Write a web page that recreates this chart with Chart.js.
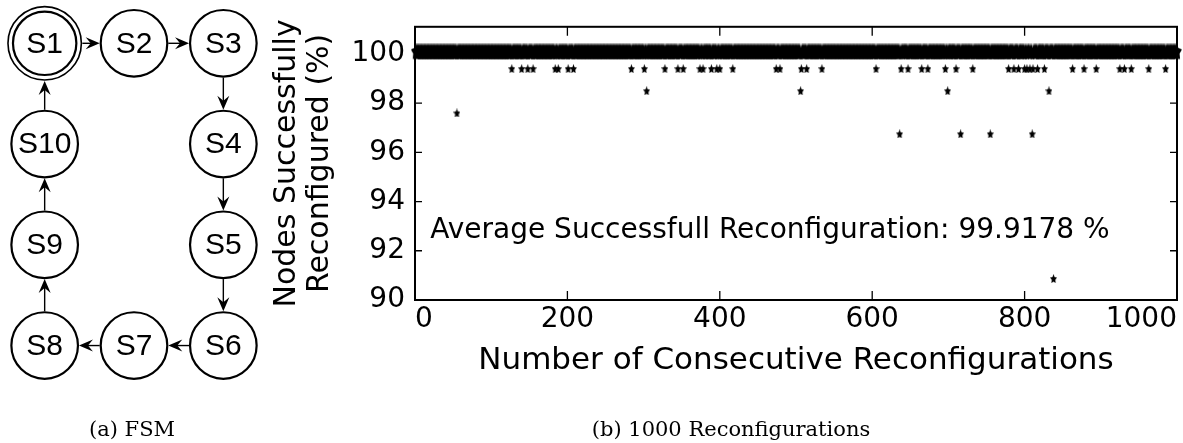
<!DOCTYPE html>
<html>
<head>
<meta charset="utf-8">
<script src="https://cdn.jsdelivr.net/npm/chart.js@4.4.1/dist/chart.umd.min.js"></script>
<style>
  html, body { margin: 0; padding: 0; background: #fff; }
  #wrap { position: relative; width: 1183px; height: 443px; overflow: hidden; }
  #recon { position: absolute; left: 0; top: 0; }
  #fsm { position: absolute; left: 0; top: 3px; }
  .cap { position: absolute; font-family: "DejaVu Serif", serif; font-size: 21px; line-height: 26px;
         color: #000; white-space: nowrap; transform: translateX(-50%); }
</style>
</head>
<body>
<div id="wrap">
  <canvas id="recon" width="1183" height="443"></canvas>
  <canvas id="fsm" width="268" height="403"></canvas>
  <div class="cap" style="left:132px; top:416px">(a) FSM</div>
  <div class="cap" style="left:731px; top:416px">(b) 1000 Reconfigurations</div>
</div>
<script>
// ---- (a) state machine ----
const stateNames = ['S1', 'S2', 'S3', 'S4', 'S5', 'S6', 'S7', 'S8', 'S9', 'S10'];
const stateCol = [0, 1, 2, 2, 2, 2, 1, 0, 0, 0];
const stateRow = [0, 0, 0, 1, 2, 3, 3, 3, 2, 1];
const acceptStates = ['S1'];
const transitions = [
  ['S1', 'S2'], ['S2', 'S3'], ['S3', 'S4'], ['S4', 'S5'], ['S5', 'S6'],
  ['S6', 'S7'], ['S7', 'S8'], ['S8', 'S9'], ['S9', 'S10'], ['S10', 'S1']
];

// ---- (b) reconfiguration runs ----
const totalRuns = 1000;
// runs where not every node reconfigured, and the % reached (all other runs are 100 %)
const partialRuns = [55, 127, 140, 148, 155, 184, 188, 201, 208, 284, 301, 304, 328, 345, 352,
  374, 378, 389, 396, 400, 417, 474, 479, 506, 507, 514, 534, 605, 636, 638, 647, 665, 673,
  696, 699, 710, 716, 732, 755, 779, 786, 792, 800, 803, 807, 810, 811, 817, 826, 832, 838,
  863, 878, 894, 925, 931, 940, 963, 985];
const partialPct = [97.6, 99.4, 99.4, 99.4, 99.4, 99.4, 99.4, 99.4, 99.4, 99.4, 99.4, 98.5, 99.4, 99.4, 99.4,
  99.4, 99.4, 99.4, 99.4, 99.4, 99.4, 99.4, 99.4, 98.5, 99.4, 99.4, 99.4, 99.4, 96.75, 99.4, 99.4, 99.4, 99.4,
  99.4, 98.5, 99.4, 96.75, 99.4, 96.75, 99.4, 99.4, 99.4, 99.4, 99.4, 99.4, 96.75, 99.4, 99.4, 99.4, 98.5, 90.87,
  99.4, 99.4, 99.4, 99.4, 99.4, 99.4, 99.4, 99.4];
const xTicks = [0, 200, 400, 600, 800, 1000];
const yTicks = [90, 92, 94, 96, 98, 100];
const avgLabel = 'Average Successfull Reconfiguration: 99.9178 %';

const fullPoints = [];
for (let r = 1; r <= totalRuns; r++) {
  if (!partialRuns.includes(r)) fullPoints.push({ x: r, y: 100 });
}
const partialPoints = partialRuns.map((r, i) => ({ x: r, y: partialPct[i] }));

// filled five point star as a point image
function starImage(w, h, boxH) {
  const c = document.createElement('canvas');
  c.width = w; c.height = boxH || h;
  const g = c.getContext('2d');
  const rx = w / 2 / 0.951, ry = h / 1.809;
  g.beginPath();
  for (let i = 0; i < 10; i++) {
    const k = i % 2 ? 0.5 : 1;
    const a = -Math.PI / 2 + i * Math.PI / 5;
    const px = w / 2 + Math.cos(a) * rx * k;
    const py = ry + Math.sin(a) * ry * k;
    if (i === 0) g.moveTo(px, py); else g.lineTo(px, py);
  }
  g.closePath();
  g.fillStyle = '#000';
  g.fill();
  return c;
}
const smallStar = starImage(7, 9);
const bandStar = starImage(10, 16, 21);

const sans = 'DejaVu Sans';

const framePlugin = {
  id: 'frame',
  beforeDatasetsDraw(chart) {
    const { ctx, chartArea: a, scales: { x, y } } = chart;
    ctx.save();
    ctx.strokeStyle = '#000';
    ctx.lineWidth = 2;
    ctx.strokeRect(a.left, a.top, a.right - a.left, a.bottom - a.top);
    ctx.lineWidth = 1.3;
    ctx.beginPath();
    x.ticks.forEach(t => {
      const px = x.getPixelForValue(t.value);
      ctx.moveTo(px, a.bottom); ctx.lineTo(px, a.bottom - 9);
      ctx.moveTo(px, a.top); ctx.lineTo(px, a.top + 9);
    });
    y.ticks.forEach(t => {
      const py = y.getPixelForValue(t.value);
      ctx.moveTo(a.left, py); ctx.lineTo(a.left + 7, py);
      ctx.moveTo(a.right, py); ctx.lineTo(a.right - 7, py);
    });
    ctx.stroke();
    ctx.restore();
  }
};

const notePlugin = {
  id: 'note',
  afterDatasetsDraw(chart) {
    const { ctx, scales: { x, y } } = chart;
    ctx.save();
    ctx.font = '28px "' + sans + '"';
    ctx.fillStyle = '#000';
    ctx.textAlign = 'left';
    ctx.textBaseline = 'middle';
    ctx.fillText(avgLabel, x.getPixelForValue(20), y.getPixelForValue(92.8));
    ctx.restore();
  }
};

new Chart(document.getElementById('recon'), {
  type: 'scatter',
  data: {
    datasets: [
      { label: 'all nodes', data: fullPoints, pointStyle: bandStar, clip: false },
      { label: 'some nodes', data: partialPoints, pointStyle: smallStar, clip: false }
    ]
  },
  options: {
    responsive: false,
    animation: false,
    layout: { padding: { left: 255, top: 24, right: 6, bottom: 63 }, autoPadding: false },
    plugins: { legend: { display: false }, tooltip: { enabled: false } },
    scales: {
      x: {
        type: 'linear', min: 0, max: 1000,
        afterBuildTicks: s => { s.ticks = xTicks.map(v => ({ value: v })); },
        afterFit: s => { s.height = 80; s.paddingLeft = 0; s.paddingRight = 0; },
        grid: { display: false, drawTicks: false },
        border: { display: false },
        ticks: { color: '#000', font: { family: sans, size: 28 }, padding: 3, maxRotation: 0,
                 autoSkip: false, align: 'inner', callback: v => String(v) },
        title: { display: true, text: 'Number of Consecutive Reconfigurations', color: '#000',
                 font: { family: sans, size: 31, lineHeight: 1.2 }, padding: 0 }
      },
      y: {
        type: 'linear', min: 90, max: 101.1,
        afterBuildTicks: s => { s.ticks = yTicks.map(v => ({ value: v })); },
        afterFit: s => { s.width = 160; },
        grid: { display: false, drawTicks: false },
        border: { display: false },
        ticks: { color: '#000', font: { family: sans, size: 28 }, padding: 10 },
        title: { display: true, text: ['Nodes Successfully', 'Reconfigured (%)'], color: '#000',
                 font: { family: sans, size: 30, lineHeight: 1.12 }, padding: { top: 15, bottom: 0 } }
      }
    }
  },
  plugins: [framePlugin, notePlugin]
});

// ---- FSM drawn on a hidden-axis scatter ----
const statePoints = stateNames.map((n, i) => ({ x: stateCol[i], y: stateRow[i], name: n }));
const acceptPoints = statePoints.filter(p => acceptStates.includes(p.name));
const nodeR = 33.3, innerR = 31.7, outerR = 36.7;

const edgePlugin = {
  id: 'edges',
  afterDatasetsDraw(chart) {
    const { ctx, scales: { x, y } } = chart;
    const pos = {};
    statePoints.forEach(p => { pos[p.name] = [x.getPixelForValue(p.x), y.getPixelForValue(p.y)]; });
    ctx.save();
    ctx.strokeStyle = '#000';
    ctx.fillStyle = '#000';
    transitions.forEach(([from, to]) => {
      const [x0, y0] = pos[from], [x1, y1] = pos[to];
      const dx = x1 - x0, dy = y1 - y0, len = Math.hypot(dx, dy);
      const ux = dx / len, uy = dy / len;
      const r0 = acceptStates.includes(from) ? outerR : nodeR;
      const r1 = acceptStates.includes(to) ? outerR : nodeR;
      const sx = x0 + ux * (r0 + 1), sy = y0 + uy * (r0 + 1);
      const tx = x1 - ux * (r1 + 1), ty = y1 - uy * (r1 + 1);
      ctx.lineWidth = 1.4;
      ctx.beginPath();
      ctx.moveTo(sx, sy);
      ctx.lineTo(tx - ux * 6, ty - uy * 6);
      ctx.stroke();
      // barbed arrow head
      const hl = 14, hw = 6, notch = 9;
      const bx = tx - ux * hl, by = ty - uy * hl;
      ctx.beginPath();
      ctx.moveTo(tx, ty);
      ctx.lineTo(bx - uy * hw, by + ux * hw);
      ctx.lineTo(tx - ux * notch, ty - uy * notch);
      ctx.lineTo(bx + uy * hw, by - ux * hw);
      ctx.closePath();
      ctx.fill();
    });
    ctx.font = '30px "Liberation Sans"';
    ctx.textAlign = 'center';
    ctx.textBaseline = 'middle';
    statePoints.forEach(p => ctx.fillText(p.name, pos[p.name][0], pos[p.name][1] + 1));
    ctx.restore();
  }
};

new Chart(document.getElementById('fsm'), {
  type: 'scatter',
  data: {
    datasets: [
      { label: 'states', data: statePoints,
        pointRadius: c => acceptStates.includes(statePoints[c.dataIndex].name) ? innerR : nodeR,
        pointBackgroundColor: '#fff', pointBorderColor: '#000', pointBorderWidth: 2.2, clip: false },
      { label: 'accept', data: acceptPoints, pointRadius: outerR,
        pointBackgroundColor: 'rgba(0,0,0,0)', pointBorderColor: '#000', pointBorderWidth: 1.6, clip: false }
    ]
  },
  options: {
    responsive: false,
    animation: false,
    layout: { padding: 0, autoPadding: false },
    plugins: { legend: { display: false }, tooltip: { enabled: false } },
    scales: {
      x: { type: 'linear', display: false, min: -0.5, max: 2.5 },
      y: { type: 'linear', display: false, min: -0.4, max: 3.6, reverse: true }
    }
  },
  plugins: [edgePlugin]
});
</script>
</body>
</html>
